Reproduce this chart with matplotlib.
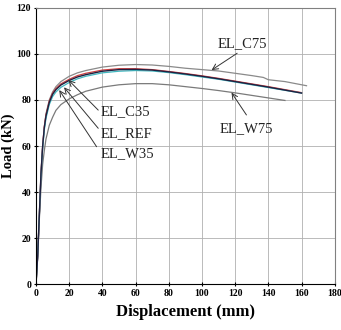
import matplotlib
matplotlib.use("Agg")
import matplotlib.pyplot as plt

# displacement (mm) / load (kN)
x_main = [0, 1, 2, 3, 4, 5, 6, 8, 10, 12, 15, 20, 25, 30, 40, 50, 60, 70, 80,
          90, 100, 110, 120, 130, 140, 150, 160]
load_ref = [0, 12, 30, 48, 60, 68, 73, 79, 82.5, 84.5, 86.5, 88.5, 90, 91, 92.5,
            93.2, 93.3, 93, 92.2, 91.3, 90.3, 89.2, 88, 86.8, 85.6, 84.3, 83]
load_c35 = [0, 12, 30, 48, 60, 68.5, 73.5, 79.5, 83, 85, 87, 89, 90.6, 91.6, 93,
            93.6, 93.6, 93.2, 92.4, 91.5, 90.5, 89.4, 88.2, 87, 85.8, 84.5, 83.2]
load_w35 = [0, 12, 30, 47, 59, 67, 72, 78, 81.5, 83.5, 85.5, 87.6, 89.2, 90.3, 91.8,
            92.5, 92.8, 92.6, 91.9, 91, 90, 89, 87.8, 86.6, 85.4, 84.2, 83]
x_c75 = [0, 1, 2, 3, 4, 5, 6, 8, 10, 12, 15, 20, 25, 30, 40, 50, 60, 70, 80,
         90, 100, 110, 120, 130, 137, 140, 150, 163]
load_c75 = [0, 12, 30, 48, 60, 68, 74, 80, 83.5, 85.8, 88, 90.3, 91.8, 92.8, 94.3,
            95.1, 95.4, 95.2, 94.6, 93.8, 93.2, 92.6, 91.6, 90.6, 89.8, 88.8, 88, 86.2]
x_w75 = [0, 1, 2, 3, 4, 5, 6, 8, 10, 12, 15, 20, 25, 30, 40, 50, 60, 70, 80,
         90, 100, 110, 120, 130, 140, 150]
load_w75 = [0, 12, 28, 42, 52, 58, 63, 69, 72.5, 75.5, 78, 80.5, 82.3, 83.8, 85.6,
            86.6, 87.1, 87.1, 86.6, 85.8, 85, 84.1, 83.1, 82, 80.9, 79.8]

labels = ["EL_C35", "EL_REF", "EL_W35", "EL_C75", "EL_W75"]
text_pos = [(39, 75), (39, 65.6), (39, 56.5), (109.6, 104.6), (110.8, 67.7)]
arrow_tail = [(37.5, 75.6), (37.5, 67.7), (36.5, 59.7), (121.2, 100.3), (126.8, 73.5)]
arrow_head = [(19.5, 88.7), (16.9, 85.5), (14, 84.3), (105.8, 93), (117.8, 83.2)]

plt.rcParams['font.family'] = ['Liberation Serif', 'DejaVu Serif']

fig = plt.figure(figsize=(3.41, 3.30), dpi=100)
ax = fig.add_axes([0.1056, 0.139, 0.876, 0.837])

ax.plot(x_c75, load_c75, color='#8a8a8a', lw=0.9)
ax.plot(x_w75, load_w75, color='#7a7a7a', lw=0.9)
ax.plot(x_main, load_c35, color='#d04040', lw=0.9)
ax.plot(x_main, load_w35, color='#40b8c0', lw=0.9)
ax.plot(x_main, load_ref, color='#202040', lw=1.0)

for lab, tp, tail, head in zip(labels, text_pos, arrow_tail, arrow_head):
    ax.text(tp[0], tp[1], lab, fontsize=10.5, va='center', ha='left', color='#222222')
    ax.annotate('', xy=head, xytext=tail,
                arrowprops=dict(arrowstyle='->', color='#333333', lw=0.7,
                                shrinkA=0, shrinkB=0))

ax.set_xlim(0, 180)
ax.set_ylim(0, 120)
ax.set_xticks(range(0, 181, 20))
ax.set_yticks(range(0, 121, 20))
ax.grid(True, color='#b0b0b0', lw=0.6)
ax.tick_params(labelsize=7, length=3, width=0.8, direction='inout', pad=2)
for t in ax.get_xticklabels() + ax.get_yticklabels():
    t.set_fontweight('bold')
for s in ['top', 'right']:
    ax.spines[s].set_color('#808080')
ax.set_xlabel('Displacement (mm)', fontsize=12, fontweight='bold', labelpad=4)
ax.set_ylabel('Load (kN)', fontsize=10.5, fontweight='bold', labelpad=1)

fig.savefig('out.png', dpi=100)
